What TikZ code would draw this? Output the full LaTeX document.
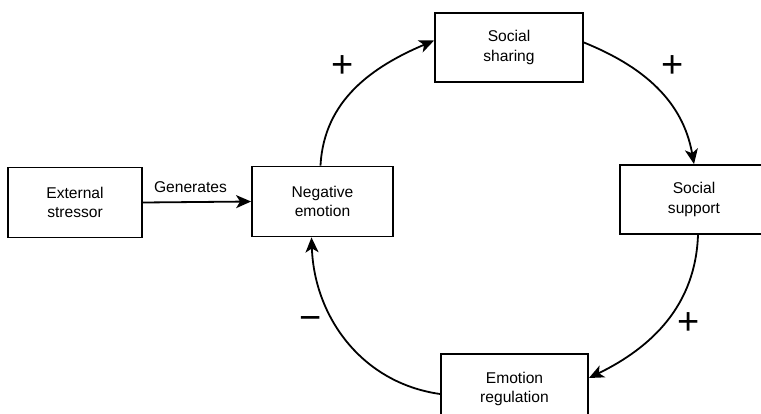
\documentclass[tikz,border=0pt]{standalone}
\usepackage{fontspec}
\setmainfont{Liberation Sans}
\usetikzlibrary{arrows.meta}
\begin{document}
\begin{tikzpicture}[x=1pt,y=-1pt,
  box/.style={draw,line width=1.8pt,align=center,inner sep=0pt,
    font=\fontsize{15.6}{19.5}\selectfont},
  conn/.style={line width=1.8pt,-{Stealth[length=15pt,width=13pt,inset=4pt]}},
  sign/.style={inner sep=0pt,font=\fontsize{38}{40}\selectfont},
  lbl/.style={inner sep=0pt,font=\fontsize{15.6}{19.5}\selectfont}]
\clip (0,0) rectangle (761,413);
\node[box,minimum width=134pt,minimum height=70pt] (ext) at (75,202.5) {External\\stressor};
\node[box,minimum width=141pt,minimum height=70pt] (neg) at (322.5,201.5) {Negative\\emotion};
\node[box,minimum width=148pt,minimum height=69pt] (share) at (509,47.5) {Social\\sharing};
\node[box,minimum width=148pt,minimum height=69pt] (support) at (694,199.5) {Social\\support};
\node[box,minimum width=147pt,minimum height=70pt] (reg) at (514.5,389) {Emotion\\regulation};

\draw[conn] (ext.east) -- node[lbl,pos=0.44,above=9pt] (gen) {Generates} (neg.west);
\draw[conn] ([xshift=-2pt]neg.north) to[out=87,in=203] ([yshift=7pt]share.west);
\draw[conn] ([yshift=5pt]share.east) to[out=-22,in=100] (support.north);
\draw[conn] ([xshift=4pt]support.south) to[out=-92,in=26] ([yshift=11pt]reg.east);
\draw[conn] ([yshift=-5pt]reg.west) to[out=172,in=-88] ([xshift=-11pt]neg.south);

\node[sign] (p1) at (343,67) {+};
\node[sign] (p2) at (673,67) {+};
\node[sign] (p3) at (689,324) {+};
\node[sign] (m1) at (311,323) {−};
\end{tikzpicture}
\end{document}
